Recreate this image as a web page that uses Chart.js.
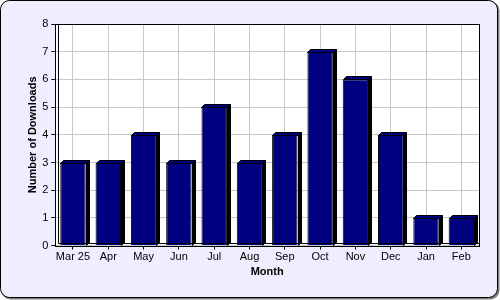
<!DOCTYPE html>
<html>
<head>
<meta charset="utf-8">
<script src="https://cdn.jsdelivr.net/npm/chart.js@4/dist/chart.umd.min.js"></script>
<style>
    html, body { margin: 0; padding: 0; background: #ffffff; }
    #wrap { width: 500px; height: 300px; }
</style>
</head>
<body>
<div id="wrap"><canvas id="downloadsChart"></canvas></div>
<script>
const months = ["Mar 25", "Apr", "May", "Jun", "Jul", "Aug", "Sep", "Oct", "Nov", "Dec", "Jan", "Feb"];
const downloads = [3, 3, 4, 3, 5, 3, 4, 7, 6, 4, 1, 1];
const yTicks = [0, 1, 2, 3, 4, 5, 6, 7, 8];

const DEPTH = 3;

// lavender panel with rounded black frame behind everything
const panelPlugin = {
    id: "panel",
    beforeDraw(chart) {
        const ctx = chart.ctx;
        ctx.save();
        ctx.fillStyle = "#808080";
        ctx.beginPath();
        ctx.roundRect(1.5, 1.5, chart.width - 2, chart.height - 2, 9);
        ctx.fill();
        ctx.fillStyle = "#eeeefe";
        ctx.strokeStyle = "#000000";
        ctx.lineWidth = 1;
        ctx.beginPath();
        ctx.roundRect(0.5, 0.5, chart.width - 3, chart.height - 3, 9);
        ctx.fill();
        ctx.stroke();
        const a = chart.chartArea;
        ctx.fillStyle = "#ffffff";
        ctx.fillRect(a.left, a.top, a.right - a.left, a.bottom - a.top);
        ctx.restore();
    },
    afterDraw(chart) {
        const ctx = chart.ctx;
        const a = chart.chartArea;
        ctx.save();
        ctx.strokeStyle = "#000000";
        ctx.lineWidth = 1;
        ctx.strokeRect(Math.round(a.left) + 0.5, Math.round(a.top) + 0.5,
            Math.round(a.right - a.left), Math.round(a.bottom - a.top));
        // left wall and floor edge
        ctx.beginPath();
        ctx.moveTo(Math.round(a.left) + 0.5 + DEPTH, Math.round(a.top) + 0.5);
        ctx.lineTo(Math.round(a.left) + 0.5 + DEPTH, Math.round(a.bottom) + 0.5 - DEPTH);
        ctx.lineTo(Math.round(a.right) + 0.5, Math.round(a.bottom) + 0.5 - DEPTH);
        ctx.stroke();
        ctx.restore();
    }
};

// extruded faces on each bar, from the bar elements' own geometry
const depthPlugin = {
    id: "depth",
    afterDatasetsDraw(chart) {
        const ctx = chart.ctx;
        const meta = chart.getDatasetMeta(0);
        ctx.save();
        ctx.lineWidth = 1;
        ctx.strokeStyle = "#000000";
        meta.data.forEach(bar => {
            const left = Math.round(bar.x - bar.width / 2) + 0.5;
            const right = Math.round(bar.x + bar.width / 2) + 0.5;
            const top = Math.round(bar.y) + 0.5;
            const base = Math.round(bar.base) + 0.5;
            ctx.fillStyle = "#000000";
            ctx.beginPath();
            ctx.moveTo(right, top);
            ctx.lineTo(right + DEPTH, top - DEPTH);
            ctx.lineTo(right + DEPTH, base - DEPTH);
            ctx.lineTo(right, base);
            ctx.closePath();
            ctx.fill();
            ctx.stroke();
            ctx.fillStyle = "#000080";
            ctx.beginPath();
            ctx.moveTo(left, top);
            ctx.lineTo(left + DEPTH, top - DEPTH);
            ctx.lineTo(right + DEPTH, top - DEPTH);
            ctx.lineTo(right, top);
            ctx.closePath();
            ctx.fill();
            ctx.stroke();
        });
        ctx.restore();
    }
};

new Chart(document.getElementById("downloadsChart"), {
    type: "bar",
    data: {
        labels: months,
        datasets: [{
            label: "Downloads",
            data: downloads,
            backgroundColor: "#000080",
            borderColor: "#000000",
            borderWidth: 1,
            categoryPercentage: 1,
            barPercentage: 0.72
        }]
    },
    options: {
        responsive: true,
        maintainAspectRatio: false,
        animation: false,
        devicePixelRatio: 1,
        layout: {
            padding: { left: 26, right: 21, top: 24, bottom: 21 }
        },
        plugins: {
            legend: { display: false },
            tooltip: { enabled: false }
        },
        scales: {
            x: {
                grid: {
                    offset: false,
                    color: "#c8c8c8",
                    tickColor: "#000000",
                    tickLength: 4
                },
                border: { display: false },
                ticks: {
                    color: "#000000",
                    padding: 1,
                    maxRotation: 0,
                    autoSkip: false,
                    font: { family: "Liberation Sans, Arial, sans-serif", size: 11 }
                },
                title: {
                    display: true,
                    text: "Month",
                    color: "#000000",
                    padding: { top: 1, bottom: 0 },
                    font: { family: "Liberation Sans, Arial, sans-serif", size: 11, weight: "bold" }
                }
            },
            y: {
                min: 0,
                max: 8,
                afterBuildTicks(scale) {
                    scale.ticks = yTicks.map(v => ({ value: v }));
                },
                grid: {
                    color: "#c8c8c8",
                    tickColor: "#000000",
                    tickLength: 4
                },
                border: { display: false },
                ticks: {
                    color: "#000000",
                    padding: 3,
                    font: { family: "Liberation Sans, Arial, sans-serif", size: 11 }
                },
                title: {
                    display: true,
                    text: "Number of Downloads",
                    color: "#000000",
                    padding: { top: 0, bottom: 0 },
                    font: { family: "Liberation Sans, Arial, sans-serif", size: 11, weight: "bold" }
                }
            }
        }
    },
    plugins: [panelPlugin, depthPlugin]
});
</script>
</body>
</html>
